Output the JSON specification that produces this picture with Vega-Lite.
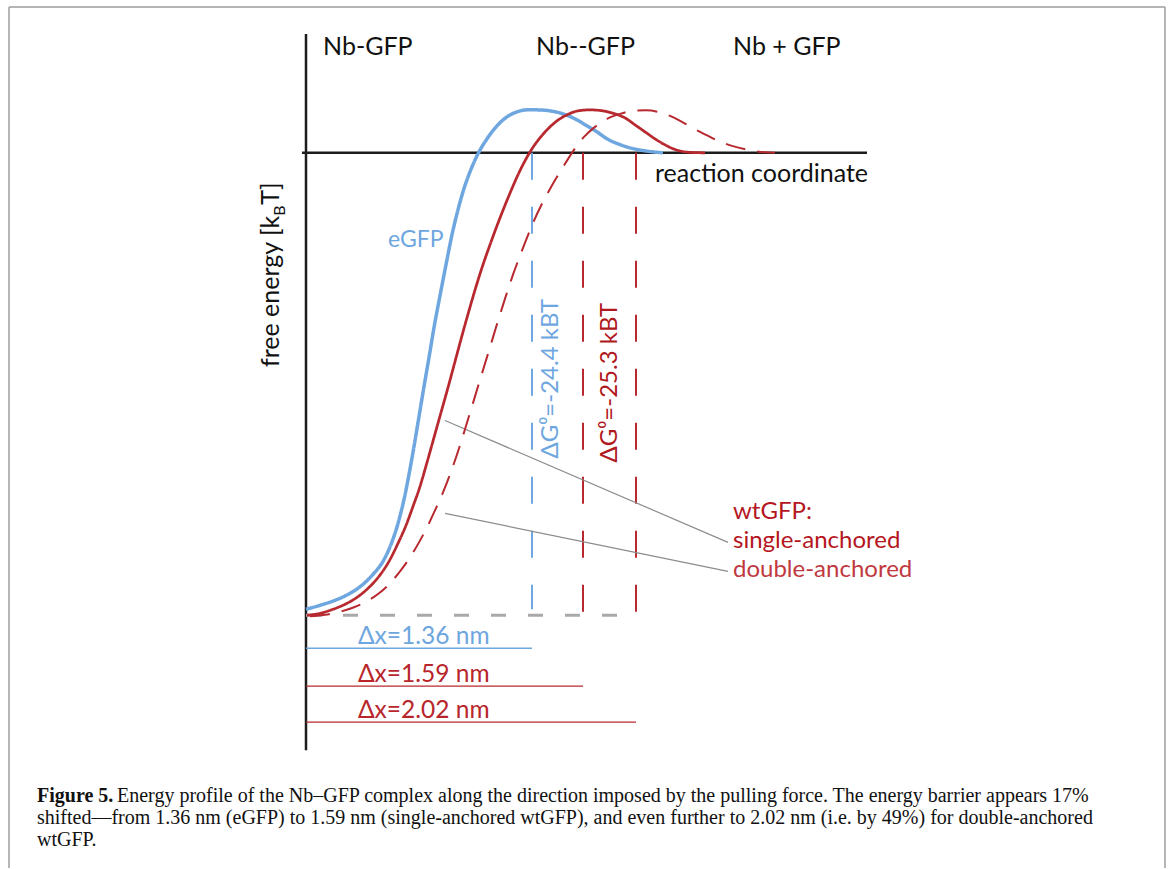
{
  "$schema": "https://vega.github.io/schema/vega-lite/v6.json",
  "width": 1171,
  "height": 869,
  "padding": 0,
  "autosize": {"type": "fit", "contains": "padding"},
  "background": "white",
  "config": {"view": {"stroke": null}},
  "datasets": {
    "curves": [
      {"series": "eGFP", "x": 306, "y": 610}, {"series": "eGFP", "x": 320, "y": 606}, {"series": "eGFP", "x": 335, "y": 601},
      {"series": "eGFP", "x": 350, "y": 594}, {"series": "eGFP", "x": 363, "y": 585}, {"series": "eGFP", "x": 373, "y": 575},
      {"series": "eGFP", "x": 383, "y": 562}, {"series": "eGFP", "x": 391, "y": 545}, {"series": "eGFP", "x": 398, "y": 524},
      {"series": "eGFP", "x": 404, "y": 500}, {"series": "eGFP", "x": 409, "y": 475}, {"series": "eGFP", "x": 414, "y": 447},
      {"series": "eGFP", "x": 419, "y": 417}, {"series": "eGFP", "x": 424, "y": 387}, {"series": "eGFP", "x": 429, "y": 358},
      {"series": "eGFP", "x": 434, "y": 328}, {"series": "eGFP", "x": 440, "y": 296}, {"series": "eGFP", "x": 446, "y": 265},
      {"series": "eGFP", "x": 452, "y": 235}, {"series": "eGFP", "x": 458, "y": 210}, {"series": "eGFP", "x": 463, "y": 192},
      {"series": "eGFP", "x": 470, "y": 172}, {"series": "eGFP", "x": 478, "y": 154}, {"series": "eGFP", "x": 487, "y": 139},
      {"series": "eGFP", "x": 497, "y": 126}, {"series": "eGFP", "x": 507, "y": 117}, {"series": "eGFP", "x": 517, "y": 112},
      {"series": "eGFP", "x": 527, "y": 110}, {"series": "eGFP", "x": 537, "y": 110}, {"series": "eGFP", "x": 550, "y": 111},
      {"series": "eGFP", "x": 563, "y": 114}, {"series": "eGFP", "x": 575, "y": 119}, {"series": "eGFP", "x": 587, "y": 126},
      {"series": "eGFP", "x": 597, "y": 132}, {"series": "eGFP", "x": 607, "y": 139}, {"series": "eGFP", "x": 618, "y": 144},
      {"series": "eGFP", "x": 630, "y": 148}, {"series": "eGFP", "x": 645, "y": 151}, {"series": "eGFP", "x": 663, "y": 153},

      {"series": "single-anchored", "x": 307, "y": 616}, {"series": "single-anchored", "x": 320, "y": 614}, {"series": "single-anchored", "x": 333, "y": 610},
      {"series": "single-anchored", "x": 345, "y": 605}, {"series": "single-anchored", "x": 357, "y": 598}, {"series": "single-anchored", "x": 368, "y": 589},
      {"series": "single-anchored", "x": 379, "y": 577}, {"series": "single-anchored", "x": 389, "y": 562}, {"series": "single-anchored", "x": 398, "y": 544},
      {"series": "single-anchored", "x": 406, "y": 526}, {"series": "single-anchored", "x": 413, "y": 507}, {"series": "single-anchored", "x": 420, "y": 487},
      {"series": "single-anchored", "x": 427, "y": 463}, {"series": "single-anchored", "x": 434, "y": 438}, {"series": "single-anchored", "x": 441, "y": 413},
      {"series": "single-anchored", "x": 448, "y": 388}, {"series": "single-anchored", "x": 455, "y": 362}, {"series": "single-anchored", "x": 462, "y": 336},
      {"series": "single-anchored", "x": 469, "y": 311}, {"series": "single-anchored", "x": 476, "y": 287}, {"series": "single-anchored", "x": 483, "y": 265},
      {"series": "single-anchored", "x": 490, "y": 245}, {"series": "single-anchored", "x": 497, "y": 226}, {"series": "single-anchored", "x": 504, "y": 208},
      {"series": "single-anchored", "x": 511, "y": 191}, {"series": "single-anchored", "x": 518, "y": 175}, {"series": "single-anchored", "x": 525, "y": 161},
      {"series": "single-anchored", "x": 532, "y": 149}, {"series": "single-anchored", "x": 540, "y": 138}, {"series": "single-anchored", "x": 548, "y": 129},
      {"series": "single-anchored", "x": 557, "y": 121}, {"series": "single-anchored", "x": 567, "y": 115}, {"series": "single-anchored", "x": 578, "y": 111},
      {"series": "single-anchored", "x": 590, "y": 110}, {"series": "single-anchored", "x": 603, "y": 111}, {"series": "single-anchored", "x": 615, "y": 114},
      {"series": "single-anchored", "x": 625, "y": 118}, {"series": "single-anchored", "x": 635, "y": 125}, {"series": "single-anchored", "x": 645, "y": 132},
      {"series": "single-anchored", "x": 655, "y": 139}, {"series": "single-anchored", "x": 665, "y": 145}, {"series": "single-anchored", "x": 676, "y": 150},
      {"series": "single-anchored", "x": 690, "y": 152.5}, {"series": "single-anchored", "x": 705, "y": 153},

      {"series": "double-anchored", "x": 310, "y": 617}, {"series": "double-anchored", "x": 325, "y": 615.5}, {"series": "double-anchored", "x": 340, "y": 612.5},
      {"series": "double-anchored", "x": 354, "y": 608}, {"series": "double-anchored", "x": 367, "y": 602}, {"series": "double-anchored", "x": 379, "y": 594},
      {"series": "double-anchored", "x": 390, "y": 584}, {"series": "double-anchored", "x": 400, "y": 572}, {"series": "double-anchored", "x": 410, "y": 558},
      {"series": "double-anchored", "x": 419, "y": 543}, {"series": "double-anchored", "x": 427, "y": 528}, {"series": "double-anchored", "x": 435, "y": 511},
      {"series": "double-anchored", "x": 443, "y": 493}, {"series": "double-anchored", "x": 450, "y": 475}, {"series": "double-anchored", "x": 457, "y": 455},
      {"series": "double-anchored", "x": 464, "y": 433}, {"series": "double-anchored", "x": 471, "y": 410}, {"series": "double-anchored", "x": 478, "y": 387},
      {"series": "double-anchored", "x": 485, "y": 364}, {"series": "double-anchored", "x": 492, "y": 341}, {"series": "double-anchored", "x": 499, "y": 318},
      {"series": "double-anchored", "x": 506, "y": 296}, {"series": "double-anchored", "x": 513, "y": 275}, {"series": "double-anchored", "x": 520, "y": 256},
      {"series": "double-anchored", "x": 527, "y": 238}, {"series": "double-anchored", "x": 534, "y": 221}, {"series": "double-anchored", "x": 541, "y": 206},
      {"series": "double-anchored", "x": 549, "y": 191}, {"series": "double-anchored", "x": 557, "y": 177}, {"series": "double-anchored", "x": 565, "y": 164},
      {"series": "double-anchored", "x": 574, "y": 150}, {"series": "double-anchored", "x": 584, "y": 137}, {"series": "double-anchored", "x": 595, "y": 127},
      {"series": "double-anchored", "x": 607, "y": 119}, {"series": "double-anchored", "x": 620, "y": 114}, {"series": "double-anchored", "x": 633, "y": 111},
      {"series": "double-anchored", "x": 646, "y": 110.5}, {"series": "double-anchored", "x": 658, "y": 112}, {"series": "double-anchored", "x": 670, "y": 116},
      {"series": "double-anchored", "x": 682, "y": 122}, {"series": "double-anchored", "x": 694, "y": 129}, {"series": "double-anchored", "x": 706, "y": 135},
      {"series": "double-anchored", "x": 718, "y": 141}, {"series": "double-anchored", "x": 732, "y": 146}, {"series": "double-anchored", "x": 748, "y": 150},
      {"series": "double-anchored", "x": 765, "y": 152.5}, {"series": "double-anchored", "x": 775, "y": 153}
    ],
    "barriers": [
      {"series": "eGFP", "x": 532, "y": 153, "y2": 610},
      {"series": "single-anchored", "x": 583, "y": 153, "y2": 614},
      {"series": "double-anchored", "x": 636, "y": 153, "y2": 614}
    ],
    "widths": [
      {"series": "eGFP", "x": 306, "x2": 532, "y": 649},
      {"series": "single-anchored", "x": 306, "x2": 583, "y": 687},
      {"series": "double-anchored", "x": 306, "x2": 636, "y": 723}
    ],
    "frame": [
      {"x": 9, "y": 7, "x2": 1165, "y2": 7},
      {"x": 9, "y": 7, "x2": 9, "y2": 869},
      {"x": 1165, "y": 7, "x2": 1165, "y2": 869}
    ],
    "axes": [
      {"x": 306, "y": 34, "x2": 306, "y2": 751},
      {"x": 302, "y": 153, "x2": 867, "y2": 153}
    ],
    "leaders": [
      {"x": 445, "y": 421, "x2": 728, "y2": 543},
      {"x": 445, "y": 514, "x2": 728, "y2": 572}
    ]
  },
  "encoding": {
    "x": {"field": "x", "type": "quantitative", "scale": {"domain": [0, 1171], "nice": false, "zero": false}, "axis": null},
    "y": {"field": "y", "type": "quantitative", "scale": {"domain": [0, 869], "nice": false, "zero": false, "reverse": true}, "axis": null}
  },
  "layer": [
    {
      "data": {"name": "frame"},
      "mark": {"type": "rule", "color": "#9c9c9c", "strokeWidth": 1.5},
      "encoding": {"x2": {"field": "x2"}, "y2": {"field": "y2"}}
    },
    {
      "data": {"name": "axes"},
      "mark": {"type": "rule", "color": "#1c1c1c", "strokeWidth": 2.5},
      "encoding": {"x2": {"field": "x2"}, "y2": {"field": "y2"}}
    },
    {
      "data": {"values": [{"x": 306, "x2": 636, "y": 616}]},
      "mark": {"type": "rule", "color": "#a9a9a9", "strokeWidth": 3, "strokeDash": [15, 22]},
      "encoding": {"x2": {"field": "x2"}}
    },
    {
      "data": {"name": "barriers"},
      "mark": {"type": "rule", "strokeWidth": 2, "strokeDash": [27, 27]},
      "encoding": {
        "y2": {"field": "y2"},
        "color": {"field": "series", "type": "nominal", "scale": {"domain": ["eGFP", "single-anchored", "double-anchored"], "range": ["#6ea6df", "#b8292f", "#b8292f"]}, "legend": null}
      }
    },
    {
      "data": {"name": "widths"},
      "mark": {"type": "rule", "strokeWidth": 1.3},
      "encoding": {
        "x2": {"field": "x2"},
        "color": {"field": "series", "type": "nominal", "legend": null}
      }
    },
    {
      "data": {"name": "leaders"},
      "mark": {"type": "rule", "color": "#8c8c8c", "strokeWidth": 1.2},
      "encoding": {"x2": {"field": "x2"}, "y2": {"field": "y2"}}
    },
    {
      "data": {"name": "curves"},
      "mark": {"type": "line", "interpolate": "monotone"},
      "encoding": {
        "color": {"field": "series", "type": "nominal", "legend": null},
        "strokeWidth": {"field": "series", "type": "nominal", "scale": {"domain": ["eGFP", "single-anchored", "double-anchored"], "range": [3.5, 2, 2]}, "legend": null},
        "strokeDash": {"field": "series", "type": "nominal", "scale": {"domain": ["eGFP", "single-anchored", "double-anchored"], "range": [[1, 0], [1, 0], [20, 12]]}, "legend": null}
      }
    },
    {
      "data": {"values": [
        {"label": "Nb-GFP", "x": 323, "y": 55},
        {"label": "Nb--GFP", "x": 536, "y": 55},
        {"label": "Nb + GFP", "x": 733, "y": 55},
        {"label": "reaction coordinate", "x": 655, "y": 182}
      ]},
      "mark": {"type": "text", "align": "left", "baseline": "alphabetic", "font": "Lato", "fontSize": 25, "color": "#111111"},
      "encoding": {"text": {"field": "label"}}
    },
    {
      "data": {"values": [{"label": "free energy [k", "x": 279, "y": 216}]},
      "mark": {"type": "text", "align": "right", "baseline": "alphabetic", "angle": 270, "font": "Lato", "fontSize": 25, "color": "#111111"},
      "encoding": {"text": {"field": "label"}}
    },
    {
      "data": {"values": [{"label": "B", "x": 285, "y": 216}]},
      "mark": {"type": "text", "align": "left", "baseline": "alphabetic", "angle": 270, "font": "Lato", "fontSize": 16, "color": "#111111"},
      "encoding": {"text": {"field": "label"}}
    },
    {
      "data": {"values": [{"label": "T]", "x": 279, "y": 205}]},
      "mark": {"type": "text", "align": "left", "baseline": "alphabetic", "angle": 270, "font": "Lato", "fontSize": 25, "color": "#111111"},
      "encoding": {"text": {"field": "label"}}
    },
    {
      "data": {"values": [{"label": "eGFP", "x": 388, "y": 247}]},
      "mark": {"type": "text", "align": "left", "baseline": "alphabetic", "font": "Lato", "fontSize": 23, "color": "#6ea6df"},
      "encoding": {"text": {"field": "label"}}
    },
    {
      "data": {"values": [{"label": "Δx=1.36 nm", "x": 358, "y": 645}]},
      "mark": {"type": "text", "align": "left", "baseline": "alphabetic", "font": "Lato", "fontSize": 24.5, "color": "#6ea6df"},
      "encoding": {"text": {"field": "label"}}
    },
    {
      "data": {"values": [
        {"label": "Δx=1.59 nm", "x": 358, "y": 683},
        {"label": "Δx=2.02 nm", "x": 358, "y": 719}
      ]},
      "mark": {"type": "text", "align": "left", "baseline": "alphabetic", "font": "Lato", "fontSize": 24.5, "color": "#b8262c"},
      "encoding": {"text": {"field": "label"}}
    },
    {
      "data": {"values": [{"label": "ΔG⁰=-24.4 kBT", "x": 558, "y": 459}]},
      "mark": {"type": "text", "align": "left", "baseline": "alphabetic", "angle": 270, "font": "Lato", "fontSize": 24, "color": "#6ea6df"},
      "encoding": {"text": {"field": "label"}}
    },
    {
      "data": {"values": [{"label": "ΔG⁰=-25.3 kBT", "x": 617, "y": 463}]},
      "mark": {"type": "text", "align": "left", "baseline": "alphabetic", "angle": 270, "font": "Lato", "fontSize": 24, "color": "#b01820"},
      "encoding": {"text": {"field": "label"}}
    },
    {
      "data": {"values": [
        {"label": "wtGFP:", "x": 733, "y": 520},
        {"label": "single-anchored", "x": 733, "y": 549}
      ]},
      "mark": {"type": "text", "align": "left", "baseline": "alphabetic", "font": "Lato", "fontSize": 24, "color": "#b5161e"},
      "encoding": {"text": {"field": "label"}}
    },
    {
      "data": {"values": [{"label": "double-anchored", "x": 733, "y": 578}]},
      "mark": {"type": "text", "align": "left", "baseline": "alphabetic", "font": "Lato", "fontSize": 24, "color": "#c0393f"},
      "encoding": {"text": {"field": "label"}}
    },
    {
      "data": {"values": [{"label": "Figure 5.", "x": 37, "y": 803}]},
      "mark": {"type": "text", "align": "left", "baseline": "alphabetic", "font": "Liberation Serif", "fontSize": 20, "fontWeight": "bold", "color": "#111111"},
      "encoding": {"text": {"field": "label"}}
    },
    {
      "data": {"values": [
        {"label": "Energy profile of the Nb–GFP complex along the direction imposed by the pulling force. The energy barrier appears 17%", "x": 117, "y": 803},
        {"label": "shifted—from 1.36 nm (eGFP) to 1.59 nm (single-anchored wtGFP), and even further to 2.02 nm (i.e. by 49%) for double-anchored", "x": 37, "y": 825},
        {"label": "wtGFP.", "x": 37, "y": 847}
      ]},
      "mark": {"type": "text", "align": "left", "baseline": "alphabetic", "font": "Liberation Serif", "fontSize": 20, "color": "#111111"},
      "encoding": {"text": {"field": "label"}}
    }
  ]
}
